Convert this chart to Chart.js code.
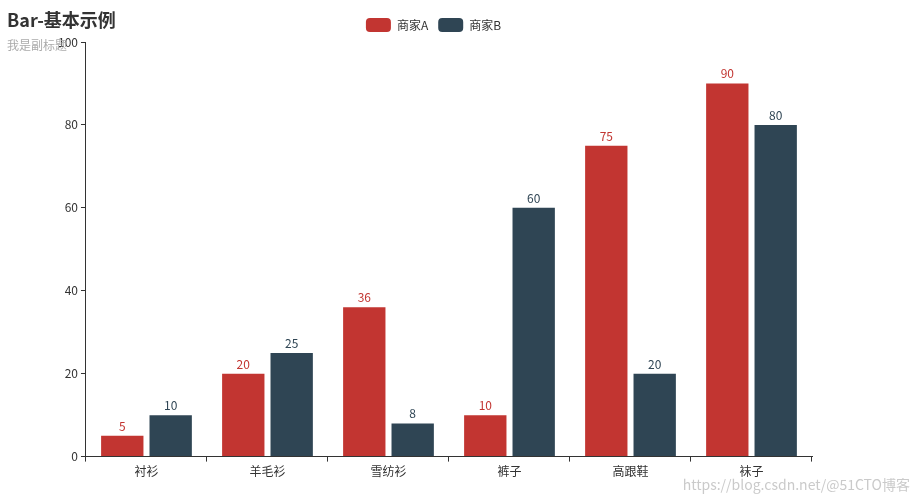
<!DOCTYPE html>
<html>
<head>
<meta charset="utf-8">
<script src="https://cdn.jsdelivr.net/npm/chart.js@4"></script>
<style>
body { margin: 0; background: #fff; }
#wrap { width: 923px; height: 502px; }
</style>
</head>
<body>
<div id="wrap"><canvas id="c"></canvas></div>
<script>
const categories = ['衬衫', '羊毛衫', '雪纺衫', '裤子', '高跟鞋', '袜子'];
const sellerA = [5, 20, 36, 10, 75, 90];
const sellerB = [10, 25, 8, 60, 20, 80];
const yTicks = [0, 20, 40, 60, 80, 100];

const font = '"Microsoft YaHei", "Noto Sans CJK SC", sans-serif';

const extras = {
    id: 'extras',
    afterDraw(chart) {
        const ctx = chart.ctx;
        ctx.save();
        ctx.textBaseline = 'alphabetic';
        ctx.textAlign = 'left';
        ctx.fillStyle = '#333';
        ctx.font = 'bold 18px ' + font;
        ctx.fillText('Bar-基本示例', 7, 27);
        ctx.fillStyle = '#aaa';
        ctx.font = '12px ' + font;
        ctx.fillText('我是副标题', 7, 50);
        // value labels
        ctx.textAlign = 'center';
        chart.data.datasets.forEach((ds, i) => {
            chart.getDatasetMeta(i).data.forEach((bar, j) => {
                ctx.fillStyle = ds.backgroundColor;
                ctx.fillText(ds.data[j], bar.x, bar.y - 5);
            });
        });
        ctx.textAlign = 'right';
        ctx.fillStyle = 'rgba(150,150,150,0.5)';
        ctx.font = '14px ' + font;
        ctx.fillText('https://blog.csdn.net/@51CTO博客', 910, 490);
        ctx.restore();
    }
};

new Chart(document.getElementById('c'), {
    type: 'bar',
    data: {
        labels: categories,
        datasets: [
            { label: '商家A', data: sellerA, backgroundColor: '#c23531' },
            { label: '商家B', data: sellerB, backgroundColor: '#2f4554' }
        ]
    },
    options: {
        responsive: true,
        maintainAspectRatio: false,
        animation: false,
        layout: { padding: { left: 55, right: 111, top: 8, bottom: 20 } },
        datasets: { bar: { categoryPercentage: 0.8, barPercentage: 0.875 } },
        plugins: {
            legend: {
                position: 'top',
                labels: {
                    boxWidth: 25, boxHeight: 14, useBorderRadius: true, borderRadius: 4,
                    color: '#333', font: { size: 12, family: font }, padding: 10
                }
            },
            tooltip: { enabled: false }
        },
        scales: {
            x: {
                offset: true,
                grid: { display: true, drawOnChartArea: false, offset: true, tickLength: 5, color: '#333' },
                border: { color: '#333' },
                ticks: { color: '#333', font: { size: 12, family: font } }
            },
            y: {
                min: 0, max: 100,
                afterBuildTicks: axis => { axis.ticks = yTicks.map(v => ({ value: v })); },
                grid: { display: true, drawOnChartArea: false, tickLength: 5, color: '#333' },
                border: { color: '#333' },
                ticks: { color: '#333', font: { size: 12, family: font } }
            }
        }
    },
    plugins: [extras]
});
</script>
</body>
</html>
